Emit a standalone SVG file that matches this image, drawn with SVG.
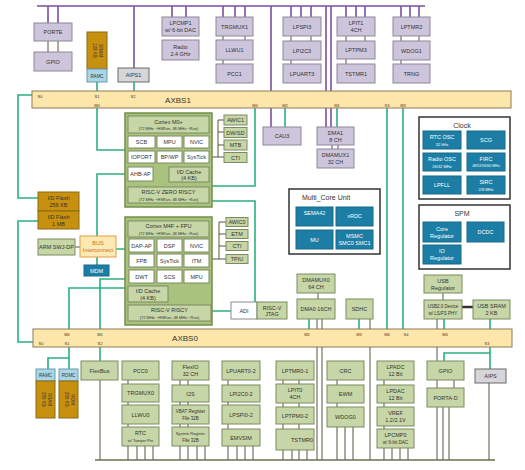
<svg xmlns="http://www.w3.org/2000/svg" width="525" height="470" viewBox="0 0 525 470">
<style>
text{font-family:"Liberation Sans Narrow","Liberation Sans",Arial,sans-serif;font-size:5.5px;text-anchor:middle;fill:#333}
.p{fill:#cdc5dc;stroke:#8d879a;stroke-width:1}
.g{fill:#c6d6a6;stroke:#7d8c60;stroke-width:1}
.w{fill:#fff;stroke:#7d8c60;stroke-width:1}
.t{fill:#1c7ea4;stroke:#166a8a;stroke-width:1}
.core{fill:#a9c27e;stroke:#728e48;stroke-width:1.5}
.bar{fill:#fde6a9;stroke:#8c7b58;stroke-width:1}
.gold{fill:#c8900f;stroke:#8a6a14;stroke-width:1}
.ramc{fill:#a9d6e6;stroke:#6a9aaa;stroke-width:1}
.gr{fill:#d6d6da;stroke:#6a6a6a;stroke-width:1}
.bx{fill:#fff;stroke:#333;stroke-width:1.5}
.bus{fill:#fde9b4;stroke:#e0a040;stroke-width:1}
.wt{fill:#fff}
.s{font-size:4px}
.lab{font-size:4.5px}
.ttl{font-size:7px}
.big{font-size:8px}
.lp{stroke:#7b4fa3;stroke-width:1.6;fill:none}
.lg{stroke:#2bb07f;stroke-width:1.6;fill:none}
.ld{stroke:#55553f;stroke-width:1;fill:none}
.lb{stroke:#6c6c52;stroke-width:1.5;fill:none}
</style>
<g id="connectors">
<path class="lp" d="M37,6H425M48,6V23M58,6V23M134,6V68M172,6V17M186,6V17M223,6V17M235,6V17M245,6V17M271,6V127M291,6V17M301,6V17M311,6V17M326,6V127M331,6V127M346,6V17M356,6V17M365,6V17M401,6V17M410,6V17M419,6V17"/>
<path class="lg" d="M32,95H18V198H38M38,221H18V342H33M97,82V91M134,82V91M97,108V150H125M128,174H97V236M97,257V265M116,249H129M255,108V186H212M212,201H255V302M212,311H231M128,288H69V329M125,279H100V329M285,108V127M337,108V127M387,108V329M403,108V329M309,319V329M359,319V329M444,319V329M490,319V329M490,347V369M490,353H444V361M69,347V369M69,358H48V369M100,347V361"/>
<path class="ld" d="M48,41V52M58,41V52M223,36V40M245,36V40M223,60V64M291,36V41M311,36V41M291,60V64M346,36V41M365,36V41M346,59V64M401,36V41M419,36V41M401,60V64M332,145V149M338,145V149M212,157H218M218,120V157M218,120H224M218,132H224M218,145H224M218,157H224M212,259H219M219,222V259M219,222H226M219,234H226M219,246H226M219,259H226M75,247H80M318,293V299M317,319V460M322,319V460M370,319V460M443,293V300M437,319V361M437,380V388M454,380V388M437,407V460M443,407V460M449,407V460M489,383V460M100,380V460M128,380V460M137,446V460M145,446V460M153,446V460M180,380V460M188,380V460M197,446V460M205,446V460M228,380V460M237,446V460M245,446V460M253,446V460M283,380V460M299,380V460M292,450V460M307,450V460M337,380V460M345,427V460M353,427V460M384,380V460M392,448V460M400,448V460M408,448V460"/>
<path d="M462,307H473" stroke="#333" stroke-width="2.5" fill="none"/>
<path class="lb" d="M95,460H495"/>
</g>
<g id="porte"><rect class="p" x="34" y="23" width="38" height="18"/><text x="53" y="34">PORTE</text></g>
<g id="gpio1"><rect class="p" x="34" y="52" width="38" height="19"/><text x="53" y="63.5">GPIO</text></g>
<g id="sram1"><rect class="gold" x="87" y="32" width="20" height="37"/><text transform="rotate(90 97 50.5)" x="97" y="48.5" class="lab">SRAM</text><text transform="rotate(90 97 50.5)" x="97" y="54.5" class="lab">128 KB</text></g>
<g id="ramc1"><rect class="ramc" x="87" y="69" width="20" height="13"/><text x="97" y="77.5" class="lab">RAMC</text></g>
<g id="aips1"><rect class="gr" x="118" y="68" width="31" height="14"/><text x="133.5" y="77">AIPS1</text></g>
<g id="lpcmp1"><rect class="p" x="162" y="17" width="37" height="19"/><text x="180.5" y="25">LPCMP1</text><text x="180.5" y="32">w/ 6-bit DAC</text></g>
<g id="radio"><rect class="p" x="162" y="40" width="37" height="20"/><text x="180.5" y="48.5">Radio</text><text x="180.5" y="55.5">2.4 GHz</text></g>
<g id="trgmux1"><rect class="p" x="216" y="17" width="37" height="19"/><text x="234.5" y="28.5">TRGMUX1</text></g>
<g id="llwu1"><rect class="p" x="216" y="40" width="37" height="20"/><text x="234.5" y="52">LLWU1</text></g>
<g id="pcc1"><rect class="p" x="216" y="64" width="37" height="19"/><text x="234.5" y="75.5">PCC1</text></g>
<g id="lpspi3"><rect class="p" x="283" y="17" width="38" height="19"/><text x="302" y="28.5">LPSPI3</text></g>
<g id="lpi2c3"><rect class="p" x="283" y="41" width="38" height="19"/><text x="302" y="52.5">LPI2C3</text></g>
<g id="lpuart3"><rect class="p" x="283" y="64" width="38" height="19"/><text x="302" y="75.5">LPUART3</text></g>
<g id="lpit1"><rect class="p" x="337" y="17" width="38" height="19"/><text x="356" y="25">LPIT1</text><text x="356" y="32">4CH</text></g>
<g id="lptpm3"><rect class="p" x="337" y="41" width="38" height="18"/><text x="356" y="52">LPTPM3</text></g>
<g id="tstmr1"><rect class="p" x="337" y="64" width="38" height="19"/><text x="356" y="75.5">TSTMR1</text></g>
<g id="lptmr2"><rect class="p" x="393" y="17" width="37" height="19"/><text x="411.5" y="28.5">LPTMR2</text></g>
<g id="wdog1"><rect class="p" x="393" y="41" width="37" height="19"/><text x="411.5" y="52.5">WDOG1</text></g>
<g id="trng"><rect class="p" x="393" y="64" width="37" height="19"/><text x="411.5" y="75.5">TRNG</text></g>
<g id="axbs1"><rect class="bar" x="32" y="91" width="479" height="17"/><text x="178" y="102.5" class="big">AXBS1</text>
<text x="40" y="98" class="s">S0</text><text x="97" y="98" class="s">S1</text><text x="133" y="98" class="s">S2</text>
<text x="97" y="107" class="s">M0</text><text x="255" y="107" class="s">M4</text><text x="285" y="107" class="s">M2</text><text x="337" y="107" class="s">M1</text><text x="387" y="107" class="s">S3</text><text x="403" y="107" class="s">M3</text></g>
<g id="cau3"><rect class="p" x="263" y="127" width="38" height="18"/><text x="282" y="138">CAU3</text></g>
<g id="dma1"><rect class="p" x="317" y="127" width="37" height="18"/><text x="335.5" y="134.5">DMA1</text><text x="335.5" y="141.5">8 CH</text></g>
<g id="dmamux1"><rect class="p" x="317" y="149" width="37" height="19"/><text x="335.5" y="157">DMAMUX1</text><text x="335.5" y="164">32 CH</text></g>
<g id="clock"><rect class="bx" x="419" y="117" width="91" height="82"/><text x="462" y="128" class="ttl">Clock</text>
<rect class="t" x="423" y="131" width="38" height="18"/><text class="wt" x="442" y="139">RTC OSC</text><text class="wt s" x="442" y="145.5">32 kHz</text>
<rect class="t" x="467" y="131" width="38" height="18"/><text class="wt" x="486" y="142">SCG</text>
<rect class="t" x="423" y="153" width="38" height="18"/><text class="wt" x="442" y="161">Radio OSC</text><text class="wt s" x="442" y="167.5">26/32 MHz</text>
<rect class="t" x="467" y="153" width="38" height="18"/><text class="wt" x="486" y="161">FIRC</text><text class="wt" x="486" y="167" style="font-size:3.6px">48/52/56/60 MHz</text>
<rect class="t" x="423" y="176" width="38" height="18"/><text class="wt" x="442" y="187">LPFLL</text>
<rect class="t" x="467" y="176" width="38" height="18"/><text class="wt" x="486" y="184">SIRC</text><text class="wt s" x="486" y="190.5">2/8 MHz</text></g>
<g id="spm"><rect class="bx" x="419" y="205" width="91" height="64"/><text x="462" y="216" class="ttl">SPM</text>
<rect class="t" x="423" y="222" width="38" height="20"/><text class="wt" x="442" y="230.5">Core</text><text class="wt" x="442" y="237.5">Regulator</text>
<rect class="t" x="467" y="222" width="37" height="20"/><text class="wt" x="485.5" y="234">DCDC</text>
<rect class="t" x="423" y="245" width="38" height="19"/><text class="wt" x="442" y="253">IO</text><text class="wt" x="442" y="260">Regulator</text></g>
<g id="mcu"><rect class="bx" x="289" y="189" width="91" height="65"/><text x="326" y="199.5" class="ttl">Multi_Core Unit</text>
<rect class="t" x="296" y="207" width="37" height="19"/><text class="wt" x="314.5" y="215">SEMA42</text>
<rect class="t" x="336" y="207" width="37" height="19"/><text class="wt" x="354.5" y="218">xRDC</text>
<rect class="t" x="296" y="230" width="37" height="19"/><text class="wt" x="314.5" y="241.5">MU</text>
<rect class="t" x="336" y="230" width="37" height="19"/><text class="wt" x="354.5" y="237.5">MSMC</text><text class="wt" x="354.5" y="244.5">SMC0  SMC1</text></g>
<g id="core-m0"><rect class="core" x="125" y="113" width="87" height="94"/>
<rect class="g" x="128" y="116" width="81" height="17"/><text x="168.5" y="123.5">Cortex M0+</text><text x="168.5" y="130" class="s">(72 MHz ~HSRun, 48 MHz ~Run)</text>
<rect class="w" x="128" y="136" width="27" height="12"/><text x="141.5" y="144">SCB</text>
<rect class="w" x="157" y="136" width="25" height="12"/><text x="169.5" y="144">MPU</text>
<rect class="w" x="184" y="136" width="25" height="12"/><text x="196.5" y="144">NVIC</text>
<rect class="w" x="128" y="151" width="27" height="12"/><text x="141.5" y="159">IOPORT</text>
<rect class="w" x="157" y="151" width="25" height="12"/><text x="169.5" y="159">BP/WP</text>
<rect class="w" x="184" y="151" width="25" height="12"/><text x="196.5" y="159">SysTick</text>
<rect class="w" x="128" y="167" width="25" height="14"/><text x="140.5" y="176">AHB-AP</text>
<rect class="g" x="169" y="167" width="40" height="15"/><text x="189" y="173.5">I/D Cache</text><text x="189" y="179.5">(4 KB)</text>
<rect class="g" x="128" y="187" width="81" height="16"/><text x="168.5" y="194">RISC-V ZERO RISCY</text><text x="168.5" y="200.5" class="s">(72 MHz ~HSRun, 48 MHz ~Run)</text></g>
<g id="awic1"><rect class="g" x="224" y="115" width="23" height="10"/><text x="235.5" y="122">AWIC1</text></g>
<g id="dwsd"><rect class="g" x="224" y="127.5" width="23" height="10"/><text x="235.5" y="134.5">DW/SD</text></g>
<g id="mtb"><rect class="g" x="224" y="140" width="23" height="10"/><text x="235.5" y="147">MTB</text></g>
<g id="cti1"><rect class="g" x="224" y="152.5" width="23" height="10"/><text x="235.5" y="159.5">CTI</text></g>
<g id="flash256"><rect class="gold" x="38" y="192" width="41" height="19"/><text x="58.5" y="200">I/D Flash</text><text x="58.5" y="207">256 KB</text></g>
<g id="flash1m"><rect class="gold" x="38" y="211" width="41" height="18"/><text x="58.5" y="219">I/D Flash</text><text x="58.5" y="226">1 MB</text></g>
<g id="swjdp"><rect class="g" x="38" y="239" width="37" height="16"/><text x="56.5" y="249">ARM SWJ-DP</text></g>
<g id="busic"><rect class="bus" x="80" y="236" width="36" height="21"/><text x="98" y="245" style="fill:#b8742a">BUS</text><text x="98" y="252" style="fill:#b8742a">Interconnect</text></g>
<g id="mdm"><rect class="t" x="84" y="265" width="25" height="11"/><text class="wt" x="96.5" y="272.5">MDM</text></g>
<g id="core-m4"><rect class="core" x="125" y="217" width="87" height="108"/>
<rect class="g" x="128" y="221" width="81" height="16"/><text x="168.5" y="228">Cortex M4F + FPU</text><text x="168.5" y="234.5" class="s">(72 MHz ~HSRun, 48 MHz ~Run)</text>
<rect class="w" x="129" y="239" width="25" height="13"/><text x="141.5" y="247.5">DAP-AP</text>
<rect class="w" x="157" y="239" width="25" height="13"/><text x="169.5" y="247.5">DSP</text>
<rect class="w" x="184" y="239" width="25" height="13"/><text x="196.5" y="247.5">NVIC</text>
<rect class="w" x="129" y="254" width="25" height="13"/><text x="141.5" y="262.5">FPB</text>
<rect class="w" x="157" y="254" width="25" height="13"/><text x="169.5" y="262.5">SysTick</text>
<rect class="w" x="184" y="254" width="25" height="13"/><text x="196.5" y="262.5">ITM</text>
<rect class="w" x="129" y="270" width="25" height="13"/><text x="141.5" y="278.5">DWT</text>
<rect class="w" x="157" y="270" width="25" height="13"/><text x="169.5" y="278.5">SCS</text>
<rect class="w" x="184" y="270" width="25" height="13"/><text x="196.5" y="278.5">MPU</text>
<rect class="g" x="128" y="286" width="40" height="16"/><text x="148" y="293">I/D Cache</text><text x="148" y="299.5">(4 KB)</text>
<rect class="g" x="128" y="305" width="83" height="16"/><text x="169.5" y="312">RISC-V RISCY</text><text x="169.5" y="318.5" class="s">(72 MHz ~HSRun, 48 MHz ~Run)</text></g>
<g id="awic0"><rect class="g" x="226" y="217.5" width="22" height="9"/><text x="237" y="224">AWIC0</text></g>
<g id="etm"><rect class="g" x="226" y="229.5" width="22" height="9"/><text x="237" y="236">ETM</text></g>
<g id="cti0"><rect class="g" x="226" y="241.5" width="22" height="9"/><text x="237" y="248">CTI</text></g>
<g id="tpiu"><rect class="g" x="226" y="254.5" width="22" height="9"/><text x="237" y="261">TPIU</text></g>
<g id="adi"><rect x="231" y="302" width="26" height="17" fill="#fff" stroke="#8a8a8a"/><text x="244" y="312.5">ADI</text></g>
<g id="jtag"><rect class="g" x="257" y="302" width="30" height="17"/><text x="272" y="309.5">RISC-V</text><text x="272" y="316">JTAG</text></g>
<g id="dmamux0"><rect class="g" x="297" y="274" width="38" height="19"/><text x="316" y="282">DMAMUX0</text><text x="316" y="289">64 CH</text></g>
<g id="dma0"><rect class="g" x="297" y="299" width="38" height="20"/><text x="316" y="311">DMA0 16CH</text></g>
<g id="sdhc"><rect class="g" x="346" y="299" width="27" height="20"/><text x="359.5" y="311">SDHC</text></g>
<g id="usbreg"><rect class="g" x="424" y="275" width="38" height="18"/><text x="443" y="282.5">USB</text><text x="443" y="289.5">Regulator</text></g>
<g id="usbdev"><rect class="g" x="424" y="300" width="38" height="19"/><text x="443" y="308" class="lab">USB2.0 Device</text><text x="443" y="315" class="lab">w/ LS/FS PHY</text></g>
<g id="usbsram"><rect class="g" x="473" y="300" width="37" height="19"/><text x="491.5" y="308">USB SRAM</text><text x="491.5" y="315">2 KB</text></g>
<g id="axbs0"><rect class="bar" x="33" y="329" width="479" height="18"/><text x="185" y="341" class="big">AXBS0</text>
<text x="67" y="335.5" class="s">M0</text><text x="100" y="335.5" class="s">M1</text><text x="307" y="335.5" class="s">M2</text><text x="359" y="335.5" class="s">M3</text><text x="387" y="335.5" class="s">M6</text><text x="406" y="335.5" class="s">S4</text><text x="445" y="335.5" class="s">M4</text>
<text x="41" y="344.5" class="s">S0</text><text x="67" y="344.5" class="s">S1</text><text x="100" y="344.5" class="s">S2</text><text x="487" y="344.5" class="s">S3</text></g>
<g id="ramc0"><rect class="ramc" x="36" y="369" width="19" height="12"/><text x="45.5" y="377" class="lab">RAMC</text></g>
<g id="sram0"><rect class="gold" x="36" y="381" width="19" height="37"/><text transform="rotate(90 45.5 399.5)" x="45.5" y="397.5" class="lab">SRAM</text><text transform="rotate(90 45.5 399.5)" x="45.5" y="403.5" class="lab">256 KB</text></g>
<g id="romc"><rect class="ramc" x="59" y="369" width="19" height="12"/><text x="68.5" y="377" class="lab">ROMC</text></g>
<g id="rom"><rect class="gold" x="59" y="381" width="19" height="37"/><text transform="rotate(90 68.5 399.5)" x="68.5" y="397.5" class="lab">ROM</text><text transform="rotate(90 68.5 399.5)" x="68.5" y="403.5" class="lab">256 KB</text></g>
<g id="flexbus"><rect class="g" x="81" y="361" width="37" height="19"/><text x="99.5" y="372.5">FlexBus</text></g>
<g id="pcc0"><rect class="g" x="122" y="361" width="37" height="19"/><text x="140.5" y="372.5">PCC0</text></g>
<g id="trgmux0"><rect class="g" x="122" y="384" width="37" height="18"/><text x="140.5" y="395">TRGMUX0</text></g>
<g id="llwu0"><rect class="g" x="122" y="405" width="37" height="19"/><text x="140.5" y="416.5">LLWU0</text></g>
<g id="rtc"><rect class="g" x="122" y="427" width="37" height="19"/><text x="140.5" y="435">RTC</text><text x="140.5" y="441.5" class="s">w/ Tamper Pin</text></g>
<g id="flexio"><rect class="g" x="172" y="361" width="37" height="19"/><text x="190.5" y="369">FlexIO</text><text x="190.5" y="376">32 CH</text></g>
<g id="i2s"><rect class="g" x="172" y="385" width="37" height="17"/><text x="190.5" y="395.5">I2S</text></g>
<g id="vbat"><rect class="g" x="172" y="405" width="37" height="19"/><text x="190.5" y="413" class="lab">VBAT Register</text><text x="190.5" y="420" class="lab">File 32B</text></g>
<g id="sysreg"><rect class="g" x="172" y="427" width="37" height="19"/><text x="190.5" y="435" class="s">System Register</text><text x="190.5" y="442" class="lab">File 32B</text></g>
<g id="lpuart0"><rect class="g" x="222" y="361" width="38" height="19"/><text x="241" y="372.5">LPUART0-2</text></g>
<g id="lpi2c0"><rect class="g" x="222" y="385" width="38" height="17"/><text x="241" y="395.5">LPI2C0-2</text></g>
<g id="lpspi0"><rect class="g" x="222" y="405" width="38" height="19"/><text x="241" y="416.5">LPSPI0-2</text></g>
<g id="emvsim"><rect class="g" x="222" y="429" width="38" height="17"/><text x="241" y="439.5">EMVSIM</text></g>
<g id="lptmr0"><rect class="g" x="276" y="361" width="38" height="19"/><text x="295" y="372.5">LPTMR0-1</text></g>
<g id="lpit0"><rect class="g" x="276" y="384" width="38" height="19"/><text x="295" y="392">LPIT0</text><text x="295" y="399">4CH</text></g>
<g id="lptpm0"><rect class="g" x="276" y="407" width="38" height="17"/><text x="295" y="417.5">LPTPM0-2</text></g>
<g id="tstmr0"><rect class="g" x="276" y="429" width="38" height="21"/><text x="302" y="441.5">TSTMR0</text></g>
<g id="crc"><rect class="g" x="327" y="361" width="37" height="19"/><text x="345.5" y="372.5">CRC</text></g>
<g id="ewm"><rect class="g" x="327" y="385" width="37" height="18"/><text x="345.5" y="396">EWM</text></g>
<g id="wdog0"><rect class="g" x="327" y="407" width="37" height="20"/><text x="345.5" y="419">WDOG0</text></g>
<g id="lpadc"><rect class="g" x="377" y="361" width="37" height="19"/><text x="395.5" y="369">LPADC</text><text x="395.5" y="376">12 Bit</text></g>
<g id="lpdac"><rect class="g" x="377" y="385" width="37" height="18"/><text x="395.5" y="392.5">LPDAC</text><text x="395.5" y="399.5">12 Bit</text></g>
<g id="vref"><rect class="g" x="377" y="407" width="37" height="19"/><text x="395.5" y="415">VREF</text><text x="395.5" y="422">1.2/2.1V</text></g>
<g id="lpcmp0"><rect class="g" x="377" y="429" width="37" height="19"/><text x="395.5" y="437">LPCMP0</text><text x="395.5" y="444" class="lab">w/ 6-bit DAC</text></g>
<g id="gpio0"><rect class="g" x="427" y="361" width="37" height="19"/><text x="445.5" y="372.5">GPIO</text></g>
<g id="porta"><rect class="g" x="427" y="388" width="37" height="19"/><text x="445.5" y="399.5">PORTA-D</text></g>
<g id="aips0"><rect class="gr" x="475" y="369" width="31" height="14"/><text x="490.5" y="378">AIPS</text></g>
</svg>
